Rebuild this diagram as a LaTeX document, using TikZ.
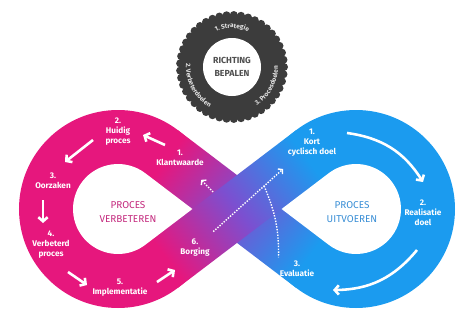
\documentclass[tikz,border=0pt]{standalone}
\usepackage{fontspec}
\setmainfont{Fira Sans}
\usetikzlibrary{calc,arrows.meta,decorations.text}

\definecolor{pinkc}{HTML}{E6177D}
\definecolor{bluec}{HTML}{1B9BEF}
\definecolor{purplec}{HTML}{7C4FD0}
\definecolor{gearc}{HTML}{3C3C3C}
\definecolor{pinktext}{HTML}{C42A7E}
\definecolor{bluetext}{HTML}{3A8FD6}
\definecolor{ringtext}{HTML}{E4E4E4}

\tikzset{
  steplabel/.style={text=white, font=\bfseries\fontsize{7}{8.5}\selectfont, align=center, inner sep=1pt},
  looptitle/.style={font=\fontsize{8.5}{12}\selectfont, align=center},
  flow/.style={white, line width=2.2pt, -{Straight Barb[length=3.5pt,width=8pt]}},
  dotline/.style={white, line width=1.2pt, dash pattern=on 1.2pt off 1.2pt},
  dotarrow/.style={dotline, -{Straight Barb[length=2.5pt,width=6pt]}},
}

\begin{document}
\begin{tikzpicture}[x=0.03cm,y=0.03cm]
  \useasboundingbox (0,0) rectangle (462,325);
  \coordinate (Cp) at (118,116);
  \coordinate (Cb) at (356,116);
  \coordinate (G) at (232,258);

  % Loops
  \fill[pinkc] (Cp) circle[radius=99];
  \fill[bluec] (Cb) circle[radius=99];
  \shade[top color=pinkc, bottom color=bluec, middle color=purplec, shading angle=53]
    ($(Cp)+(52.8:99)$) -- ($(Cb)+(-127.2:45)$) -- ($(Cb)+(-127.2:99)$) -- ($(Cp)+(52.8:45)$) -- cycle;
  \shade[top color=pinkc, bottom color=bluec, middle color=purplec, shading angle=127]
    ($(Cp)+(-52.8:99)$) -- ($(Cb)+(127.2:45)$) -- ($(Cb)+(127.2:99)$) -- ($(Cp)+(-52.8:45)$) -- cycle;
  % Holes
  \fill[white] ($(Cp)+(74.4,0)$) -- ($(Cp)+(52.8:45)$) arc[start angle=52.8, end angle=307.2, radius=45] -- cycle;
  \fill[white] ($(Cb)+(-74.4,0)$) -- ($(Cb)+(-127.2:45)$) arc[start angle=-127.2, end angle=127.2, radius=45] -- cycle;

  % Proces verbeteren
  \node[looptitle, text=pinktext] (pv) at (128,113) {PROCES\\VERBETEREN};
  \node[steplabel] (kw) at (180,167) {1.\\Klantwaarde};
  \node[steplabel] (hp) at (118,193) {2.\\Huidig\\proces};
  \node[steplabel] (oz) at (53,144) {3.\\Oorzaken};
  \node[steplabel] (vp) at (51,80) {4.\\Verbeterd\\proces};
  \node[steplabel] (im) at (120,37) {5.\\Implementatie};
  \node[steplabel] (bg) at (195,77) {6.\\Borging};

  % Proces uitvoeren
  \node[looptitle, text=bluetext] (pu) at (352,113) {PROCES\\UITVOEREN};
  \node[steplabel] (kc) at (312,182) {1.\\Kort\\cyclisch doel};
  \node[steplabel] (rd) at (423,112) {2.\\Realisatie\\doel};
  \node[steplabel] (ev) at (297,56) {3.\\Evaluatie};

  % Arrows
  \coordinate (p1a) at (165,180); \coordinate (p1b) at (143,190);
  \coordinate (p2a) at (93,185);  \coordinate (p2b) at (65,163);
  \coordinate (p3a) at (43,125);  \coordinate (p3b) at (43,102);
  \coordinate (p4a) at (68,53);   \coordinate (p4b) at (87,40);
  \coordinate (p5a) at (157,43);  \coordinate (p5b) at (175,55);
  \coordinate (b1a) at (347,192); \coordinate (b1b) at (423,143);
  \coordinate (b2a) at (417,75);  \coordinate (b2b) at (333,35);
  \draw[flow] (p1a) -- (p1b);
  \draw[flow] (p2a) -- (p2b);
  \draw[flow] (p3a) -- (p3b);
  \draw[flow] (p4a) -- (p4b);
  \draw[flow] (p5a) -- (p5b);
  \draw[flow] (b1a) to[bend left=25] (b1b);
  \draw[flow] (b2a) to[bend left=25] (b2b);

  % Dotted links
  \draw[dotarrow, shorten <=8pt, shorten >=14pt] (bg) -- coordinate[pos=0.65] (fork) (kc);
  \draw[dotline, shorten >=2pt] (fork) to[bend left=12] (ev.north west);
  \coordinate (kwtail) at (213,133);
  \draw[dotarrow, shorten >=15pt] (kwtail) -- (kw);

  % Gear
  \fill[gearc] (G) circle[radius=53];
  \foreach \a in {0,8,...,352}
    \fill[gearc] ($(G)+(\a:52)$) circle[radius=4];
  \fill[white] (G) circle[radius=29];
  \node[font=\bfseries\fontsize{7.5}{10.5}\selectfont, text=gearc!90, align=center] (rb) at (G) {RICHTING\\BEPALEN};
  \path[decorate, decoration={text along path, text align=center,
      text={|\bfseries\fontsize{5.5}{6}\selectfont\color{ringtext}|1. Strategie}}]
    ($(G)+(150:39)$) arc[start angle=150, end angle=30, radius=39];
  \path[decorate, decoration={text along path, text align=center,
      text={|\bfseries\fontsize{5.5}{6}\selectfont\color{ringtext}|2. Verbeterdoelen}}]
    ($(G)+(148:46)$) arc[start angle=148, end angle=268, radius=46];
  \path[decorate, decoration={text along path, text align=center,
      text={|\bfseries\fontsize{5.5}{6}\selectfont\color{ringtext}|3. Procesdoelen}}]
    ($(G)+(272:46)$) arc[start angle=272, end angle=392, radius=46];
\end{tikzpicture}
\end{document}
